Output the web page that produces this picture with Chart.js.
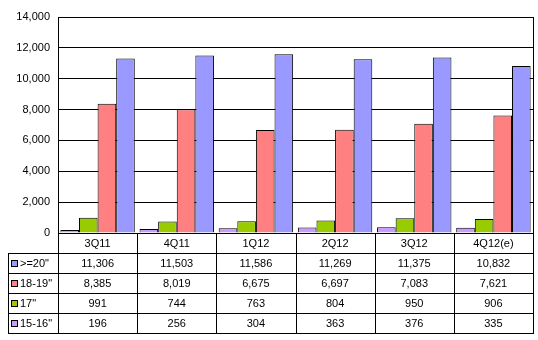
<!DOCTYPE html>
<html>
<head>
<meta charset="utf-8">
<script src="https://cdn.jsdelivr.net/npm/chart.js@4/dist/chart.umd.min.js"></script>
<style>
  body { margin: 0; background: #fff; }
  #wrap { width: 538px; height: 340px; }
</style>
</head>
<body>
<div id="wrap"><canvas id="chart" width="538" height="340"></canvas></div>
<script>
// Data
const quarters = ['3Q11', '4Q11', '1Q12', '2Q12', '3Q12', '4Q12(e)'];
const seriesNames = ['15-16"', '17"', '18-19"', '>=20"'];
const size1516 = [196, 256, 304, 363, 376, 335];
const size17 = [991, 744, 763, 804, 950, 906];
const size1819 = [8385, 8019, 6675, 6697, 7083, 7621];
const size20 = [11306, 11503, 11586, 11269, 11375, 10832];
const yMax = 14000;
const yStep = 2000;

const colors = ['#CC99FF', '#99CC00', '#FF8080', '#9999FF'];
const allSeries = [size1516, size17, size1819, size20];
const FONT = '11px "Liberation Sans", Arial, sans-serif';

const fmt = v => v.toLocaleString('en-US');

// Data table under the plot, like the Excel one
const dataTable = {
    id: 'dataTable',
    afterDraw(chart) {
        const ctx = chart.ctx;
        const area = chart.chartArea;
        const xs = chart.scales.x;
        const colW = area.width / quarters.length;
        const rowH = 20;
        const top = Math.round(area.bottom);
        const left = Math.round(area.left);
        const right = Math.round(area.right);
        const legendLeft = 8;
        const rows = [3, 2, 1, 0]; // table shows >=20" first
        const bottom = top + rowH * (rows.length + 1);

        ctx.save();
        ctx.strokeStyle = '#000';
        ctx.lineWidth = 1;
        ctx.beginPath();
        // right edge of plot + table
        ctx.moveTo(right + 0.5, Math.round(area.top));
        ctx.lineTo(right + 0.5, bottom);
        // column lines
        for (let i = 0; i < quarters.length; i++) {
            const x = Math.round(area.left + colW * i) + 0.5;
            ctx.moveTo(x, top);
            ctx.lineTo(x, bottom);
        }
        // legend column left edge
        ctx.moveTo(legendLeft + 0.5, top + rowH);
        ctx.lineTo(legendLeft + 0.5, bottom);
        // horizontal lines
        for (let r = 1; r <= rows.length + 1; r++) {
            const y = top + rowH * r + 0.5;
            ctx.moveTo(legendLeft, y);
            ctx.lineTo(right + 1, y);
        }
        ctx.stroke();

        ctx.font = FONT;
        ctx.fillStyle = '#000';
        ctx.textBaseline = 'middle';
        ctx.textAlign = 'center';
        quarters.forEach((q, i) => {
            ctx.fillText(q, xs.getPixelForValue(i), top + rowH / 2 + 1);
        });
        rows.forEach((s, r) => {
            const cy = top + rowH * (r + 1) + rowH / 2 + 1;
            ctx.textAlign = 'center';
            allSeries[s].forEach((v, i) => {
                ctx.fillText(fmt(v), xs.getPixelForValue(i), cy);
            });
            // legend key
            ctx.fillStyle = colors[s];
            ctx.fillRect(11, cy - 4, 7, 7);
            ctx.strokeRect(11.5, cy - 3.5, 6, 6);
            ctx.fillStyle = '#000';
            ctx.textAlign = 'left';
            ctx.fillText(seriesNames[s], 20, cy);
        });
        ctx.restore();
    }
};

new Chart(document.getElementById('chart'), {
    type: 'bar',
    data: {
        labels: quarters,
        datasets: seriesNames.map((name, i) => ({
            label: name,
            data: allSeries[i],
            backgroundColor: colors[i],
            borderColor: '#000',
            borderWidth: 1,
            categoryPercentage: 0.94,
            barPercentage: 1.0
        }))
    },
    options: {
        responsive: false,
        animation: false,
        layout: { padding: { left: 0, right: 5, top: 17, bottom: 107 } },
        plugins: {
            legend: { display: false },
            tooltip: { enabled: false }
        },
        scales: {
            x: { display: false },
            y: {
                min: 0,
                max: yMax,
                afterFit(scale) { scale.width = 58; },
                ticks: {
                    stepSize: yStep,
                    color: '#000',
                    font: { family: '"Liberation Sans", Arial, sans-serif', size: 11 },
                    padding: 8,
                    callback: v => fmt(v)
                },
                grid: { color: '#000', lineWidth: 1, drawTicks: false },
                border: { color: '#000', width: 1 }
            }
        }
    },
    plugins: [dataTable]
});
</script>
</body>
</html>
